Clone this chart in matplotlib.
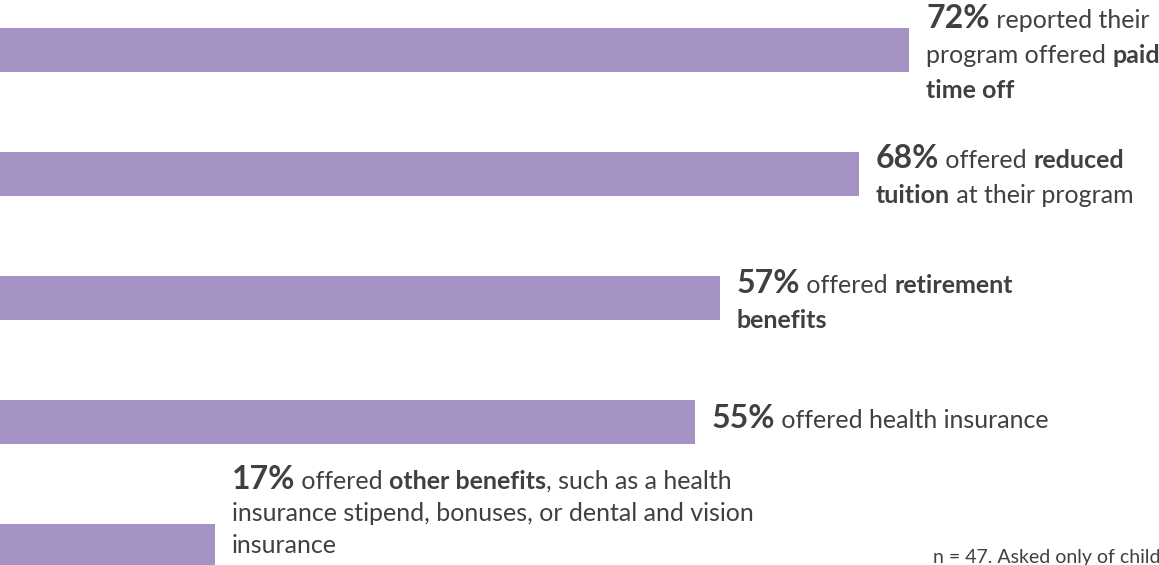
import matplotlib
matplotlib.use('Agg')
import matplotlib.pyplot as plt
from matplotlib.transforms import IdentityTransform

# share of respondents whose program offered each benefit (%)
benefits = ['paid time off', 'reduced tuition', 'retirement benefits',
            'health insurance', 'other benefits']
pct = [72, 68, 57, 55, 17]

# label text, one list of (text, bold) runs per line
labels = [
    [[('72%', 'num'), (' reported their', False)],
     [('program offered ', False), ('paid', True)],
     [('time off', True)]],
    [[('68%', 'num'), (' offered ', False), ('reduced', True)],
     [('tuition', True), (' at their program', False)]],
    [[('57%', 'num'), (' offered ', False), ('retirement', True)],
     [('benefits', True)]],
    [[('55%', 'num'), (' offered health insurance', False)]],
    [[('17%', 'num'), (' offered ', False), ('other benefits', True),
      (', such as a health', False)],
     [('insurance stipend, bonuses, or dental and vision', False)],
     [('insurance', False)]],
]
note = 'n = 47. Asked only of child'

BAR = '#A693C6'
TXT = '#404040'
FONT = 'Lato'
SIZE = 18
NUMSIZE = 23

W, H = 1159, 565
fig = plt.figure(figsize=(W / 100., H / 100.), dpi=100)
ax = fig.add_axes([0, 0, 1, 1])
ax.axis('off')

ypos = list(range(len(pct)))
ax.barh(ypos, pct, height=0.355, color=BAR, align='center')
ax.set_xlim(0, W / 12.63)
ax.set_ylim((H - 50) / 124. , -50 / 124.)

fig.canvas.draw()
rend = fig.canvas.get_renderer()

# first baseline offset from bar centre (px, downward) and line pitch
first_off = [-22, -6, -5, 6.5, -57]
pitch = [35, 35, 35, 35, 32]
gap = 17


def put_run(x, y, s, kind):
    if kind == 'num':
        kw = dict(fontsize=NUMSIZE, fontweight='bold')
    elif kind:
        kw = dict(fontsize=SIZE, fontweight='bold')
    else:
        kw = dict(fontsize=SIZE)
    t = fig.text(x, y, s, transform=IdentityTransform(), ha='left',
                 va='baseline', color=TXT, family=FONT, **kw)
    bb = t.get_window_extent(renderer=rend)
    return x + bb.width


for i, lines in enumerate(labels):
    px, py = ax.transData.transform((pct[i], ypos[i]))
    x0 = px + gap
    base = py - first_off[i]
    for k, runs in enumerate(lines):
        x = x0
        for s, kind in runs:
            x = put_run(x, base - k * pitch[i], s, kind)

fig.text(933, H - 563, note, transform=IdentityTransform(), ha='left',
         va='baseline', color=TXT, family=FONT, fontsize=14)

fig.savefig('out.png', dpi=100)
